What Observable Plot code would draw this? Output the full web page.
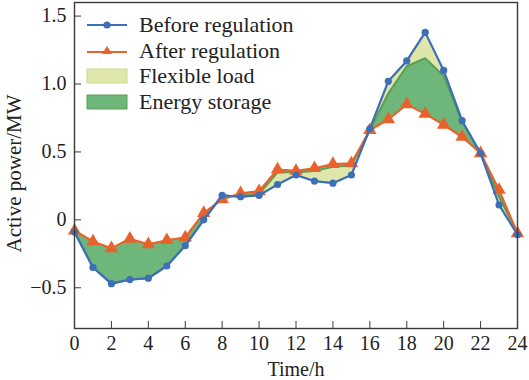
<!DOCTYPE html>
<html>
<head>
<meta charset="utf-8">
<script src="https://cdn.jsdelivr.net/npm/d3@7"></script>
<script src="https://cdn.jsdelivr.net/npm/@observablehq/plot@0.6"></script>
<style>
  html, body { margin: 0; padding: 0; background: #fff; }
  #wrap { position: relative; width: 529px; height: 380px; font-family: "Liberation Serif", "Times New Roman", serif; }
  #legend { position: absolute; left: 86px; top: 12px; font-size: 22px; color: #222; }
  .row { display: flex; align-items: center; height: 25.7px; }
  .row svg { margin-right: 11px; }
</style>
</head>
<body>
<div id="wrap"></div>
<script>
const hours = [0,1,2,3,4,5,6,7,8,9,10,11,12,13,14,15,16,17,18,19,20,21,22,23,24];
const beforeReg = [-0.09,-0.35,-0.47,-0.44,-0.43,-0.34,-0.19,0.0,0.18,0.17,0.18,0.26,0.33,0.285,0.27,0.33,0.67,1.02,1.17,1.38,1.10,0.73,0.49,0.11,-0.11];
const afterReg  = [-0.08,-0.16,-0.21,-0.14,-0.18,-0.15,-0.13,0.05,0.15,0.195,0.21,0.37,0.36,0.38,0.41,0.415,0.66,0.74,0.85,0.78,0.70,0.61,0.49,0.22,-0.10];
// boundary between flexible-load and energy-storage contributions
const midReg    = [-0.09,-0.35,-0.47,-0.44,-0.43,-0.34,-0.19,0.0,0.18,0.17,0.19,0.35,0.35,0.36,0.39,0.40,0.66,0.93,1.13,1.19,1.06,0.72,0.49,0.17,-0.10];
const xTicks = [0,2,4,6,8,10,12,14,16,18,20,22,24];
const yTicks = [-0.5,0,0.5,1.0,1.5];
const seriesNames = ["Before regulation","After regulation","Flexible load","Energy storage"];
const xLabel = "Time/h";
const yLabel = "Active power/MW";

const colBefore = "#3d6fb6", colAfter = "#e8622c";
const colFlex = "#dfe6ab", colFlexStroke = "#cbd88e";
const colStor = "#6fb67b", colStorStroke = "#5c9e52";

const data = hours.map((h, i) => ({h, before: beforeReg[i], after: afterReg[i], mid: midReg[i]}));

const plot = Plot.plot({
  width: 529, height: 380,
  marginLeft: 74, marginRight: 12, marginTop: 2, marginBottom: 52,
  style: {fontFamily: "'Liberation Serif', 'Times New Roman', serif", fontSize: "20px", color: "#222", background: "#fff"},
  x: {domain: [0, 24]},
  y: {domain: [-0.8, 1.6]},
  marks: [
    Plot.areaY(data, {x: "h", y1: "before", y2: "mid", fill: colFlex, stroke: colFlexStroke, strokeWidth: 1}),
    Plot.areaY(data, {x: "h", y1: "mid", y2: "after", fill: colStor, stroke: "none"}),
    Plot.line(data, {x: "h", y: "mid", stroke: colStorStroke, strokeWidth: 2}),
    Plot.line(data, {x: "h", y: "after", stroke: colAfter, strokeWidth: 2.2}),
    Plot.dot(data, {x: "h", y: "after", symbol: "triangle", r: 5, fill: colAfter, stroke: "none"}),
    Plot.line(data, {x: "h", y: "before", stroke: colBefore, strokeWidth: 2.2}),
    Plot.dot(data, {x: "h", y: "before", r: 3.6, fill: colBefore, stroke: "none"}),
    Plot.frame({stroke: "#3a3a3a", strokeWidth: 1.4}),
    Plot.axisX({ticks: xTicks, tickSize: -7, tickPadding: 14, tickFormat: d => String(d), label: xLabel, labelAnchor: "center", labelOffset: 47, labelArrow: "none", stroke: "#3a3a3a"}),
    Plot.axisY({ticks: yTicks, tickSize: -7, tickPadding: 15, tickFormat: d => d === 0 ? "0" : d3.format(".1f")(d), label: null, stroke: "#3a3a3a"}),
    Plot.text([yLabel], {frameAnchor: "left", textAnchor: "middle", rotate: -90, dx: -60, dy: 8, fontSize: 21, fill: "#222"})
  ]
});
plot.style.position = "absolute";
plot.style.left = "0px";
plot.style.top = "0px";
const wrap = document.getElementById("wrap");
wrap.appendChild(plot);

const legend = document.createElement("div");
legend.id = "legend";
const swatches = [
  `<svg width="42" height="16"><line x1="1" x2="41" y1="8" y2="8" stroke="${colBefore}" stroke-width="2.2"/><circle cx="21" cy="8" r="3.6" fill="${colBefore}"/></svg>`,
  `<svg width="42" height="16"><line x1="1" x2="41" y1="9" y2="9" stroke="${colAfter}" stroke-width="2.2"/><path d="M21,3 L26,11 L16,11 Z" fill="${colAfter}"/></svg>`,
  `<svg width="42" height="16"><rect x="1" y="1" width="40" height="14" fill="${colFlex}" stroke="${colFlexStroke}"/></svg>`,
  `<svg width="42" height="16"><rect x="1" y="1" width="40" height="14" fill="${colStor}" stroke="${colStorStroke}"/></svg>`
];
legend.innerHTML = seriesNames.map((n, i) => `<div class="row">${swatches[i]}<span>${n}</span></div>`).join("");
wrap.appendChild(legend);
</script>
</body>
</html>
